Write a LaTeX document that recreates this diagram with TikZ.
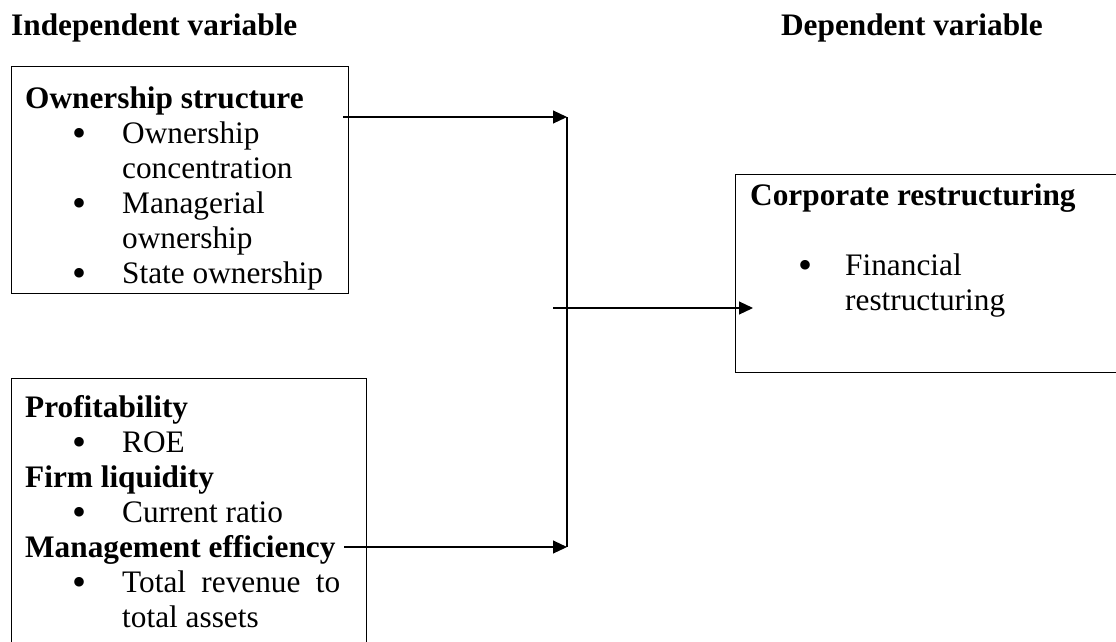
\documentclass[tikz,border=0pt]{standalone}
\usepackage{fontspec}
\setmainfont{Liberation Serif}
\usetikzlibrary{arrows.meta}
\begin{document}
\begin{tikzpicture}[x=1pt,y=-1pt,
  boxframe/.style={draw, line width=1.3pt, inner sep=0pt, anchor=north west},
  txt/.style={anchor=base west, inner sep=0pt, font=\fontsize{31.3}{35}\selectfont},
  hd/.style={txt, font=\fontsize{31.3}{35}\selectfont\bfseries},
  bul/.style={anchor=base, inner sep=0pt, font=\fontsize{40}{40}\selectfont},
  conn/.style={line width=1.1pt},
  arr/.style={conn, -{Triangle[length=14pt,width=13pt]}}]
\useasboundingbox (0,0) rectangle (1116,641);
\clip (0,0) rectangle (1116,641);
% headers
\node[hd] (hind) at (11,35) {Independent variable};
\node[hd, anchor=base east] (hdep) at (1043,35) {Dependent variable};
% box 1
\node[boxframe, minimum width=337pt, minimum height=227pt] (own) at (11,66) {};
\node[hd] (t11) at (25,108.5) {Ownership structure};
\node[bul] (b11) at (80,146.5) {•};
\node[txt] (t12) at (122,143.5) {Ownership};
\node[txt] (t13) at (122,178.5) {concentration};
\node[bul] (b12) at (80,216.5) {•};
\node[txt] (t14) at (122,213.5) {Managerial};
\node[txt] (t15) at (122,248.5) {ownership};
\node[bul] (b13) at (80,286.5) {•};
\node[txt] (t16) at (122,283.5) {State ownership};
% box 2
\node[boxframe, minimum width=355pt, minimum height=300pt] (prof) at (11,378) {};
\node[hd] (t21) at (25,417) {Profitability};
\node[bul] (b21) at (80,455) {•};
\node[txt] (t22) at (122,452) {ROE};
\node[hd] (t23) at (25,487) {Firm liquidity};
\node[bul] (b22) at (80,525) {•};
\node[txt] (t24) at (122,522) {Current ratio};
\node[hd] (t25) at (25,557) {Management efficiency};
\node[bul] (b23) at (80,595) {•};
\node[txt] (t26) at (122,592) {\makebox[218pt][s]{Total revenue to}};
\node[txt] (t27) at (122,627) {total assets};
% right box
\node[boxframe, minimum width=400pt, minimum height=198pt] (corp) at (735,174) {};
\node[hd] (t31) at (750,205) {Corporate restructuring};
\node[bul] (b31) at (805,278) {•};
\node[txt] (t32) at (845,275) {Financial};
\node[txt] (t33) at (845,310) {restructuring};
% connectors
\coordinate (ps) at (343,117);
\coordinate (pt) at (567,117);
\coordinate (ms) at (344,547);
\coordinate (mt) at (567,547);
\coordinate (cs) at (553,308);
\coordinate (ct) at (753,308);
\draw[arr] (ps) -- (pt);
\draw[arr] (ms) -- (mt);
\draw[conn] (pt) -- (mt);
\draw[arr] (cs) -- (ct);
\end{tikzpicture}
\end{document}
